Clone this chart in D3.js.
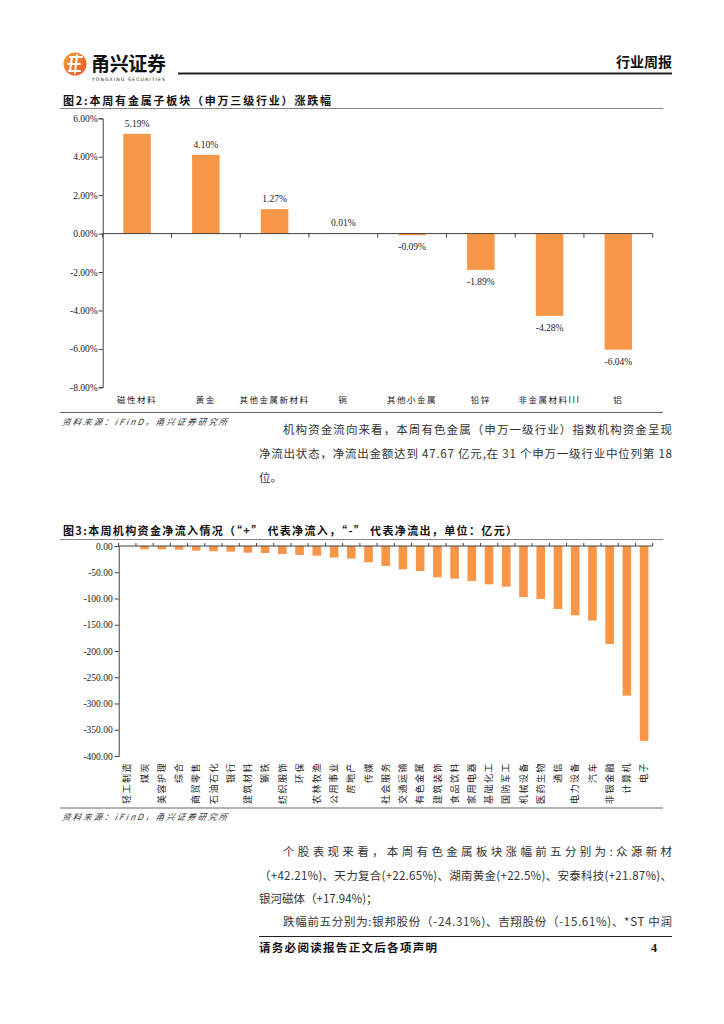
<!DOCTYPE html>
<html lang="zh">
  <head>
    <meta charset="utf-8" />
    <title>有色金属周报</title>
    <script src="https://d3js.org/d3.v7.min.js"></script>
    <style>
      body{ margin:0; padding:0; background:#fff; }
      svg{ display:block; }
      .cjk{ font-family:"Noto Sans CJK SC", sans-serif; }
      .num{ font-family:"Liberation Serif", "DejaVu Serif", serif; }
      .axis path, .axis line{ stroke:#404040; }
    </style>
  </head>
  <body>
    <svg id="page" width="724" height="1024"></svg>
    <script>

      // ---- data: chart 2 (sub-sector change %)
      var subSectors = ["磁性材料", "黄金", "其他金属新材料", "铜", "其他小金属", "铅锌", "非金属材料III", "铝"];
      var subChange = [5.19, 4.10, 1.27, 0.01, -0.09, -1.89, -4.28, -6.04];
      var pctTicks = [6, 4, 2, 0, -2, -4, -6, -8];

      // ---- data: chart 3 (net institutional flow, 亿元)
      var industries = ["轻工制造", "煤炭", "美容护理", "综合", "商贸零售", "石油石化", "银行", "建筑材料",
        "钢铁", "纺织服饰", "环保", "农林牧渔", "公用事业", "房地产", "传媒", "社会服务", "交通运输",
        "有色金属", "建筑装饰", "食品饮料", "家用电器", "基础化工", "国防军工", "机械设备", "医药生物",
        "通信", "电力设备", "汽车", "非银金融", "计算机", "电子"];
      var netFlow = [0.3, -6.3, -6.5, -7, -8.9, -10, -10.8, -12.7, -13.3, -15.2, -17, -18.4, -22, -24, -31,
        -38, -44.4, -47.67, -59.7, -62.2, -66.7, -73, -77.5, -97, -101, -120, -132, -142, -186.7, -285, -371];
      var flowTicks = [0, -50, -100, -150, -200, -250, -300, -350, -400];

      var barColor = "#f79646";
      var svg = d3.select("#page");

      // plain hyphen for negatives, like the report
      var fmt2 = d3.formatLocale({decimal: ".", thousands: ",", grouping: [3], currency: ["", ""], minus: "-"}).format(".2f");
      var fmtPct = function(d){ return fmt2(d) + "%"; };

      // ---- page header
      var logoGrad = svg.append("defs").append("linearGradient")
        .attr("id", "logoGrad").attr("x1", 0).attr("y1", 0).attr("x2", 1).attr("y2", 1);
      logoGrad.append("stop").attr("offset", "0%").attr("stop-color", "#f7a13a");
      logoGrad.append("stop").attr("offset", "100%").attr("stop-color", "#e8542a");
      svg.append("circle").attr("cx", 75).attr("cy", 64).attr("r", 11.5).attr("fill", "url(#logoGrad)");
      svg.append("path")
        .attr("d", "M70,57 L82,57 M68,64 L80,64 M69,71 L80,71 M72,57 L70,71 M77,55 L75,73")
        .attr("stroke", "#fff").attr("stroke-width", 2).attr("fill", "none").attr("stroke-linecap", "round");
      svg.append("text").attr("class", "cjk")
        .attr("x", 91).attr("y", 71).attr("font-size", 19).attr("font-weight", "bold").attr("fill", "#111")
        .attr("textLength", 75).text("甬兴证券");
      svg.append("text").attr("font-family", "DejaVu Sans")
        .attr("x", 92).attr("y", 80.5).attr("font-size", 4.6).attr("fill", "#222")
        .attr("textLength", 73).text("YONGXING SECURITIES");
      svg.append("line").attr("x1", 178).attr("x2", 672).attr("y1", 73.5).attr("y2", 73.5)
        .attr("stroke", "#222").attr("stroke-width", 2);
      svg.append("text").attr("class", "cjk")
        .attr("x", 672).attr("y", 67).attr("text-anchor", "end").attr("font-size", 14).attr("font-weight", "bold")
        .attr("fill", "#111").text("行业周报");

      function rule(y, x1, x2, color, w){
        svg.append("line").attr("x1", x1).attr("x2", x2).attr("y1", y).attr("y2", y)
          .attr("stroke", color).attr("stroke-width", w);
      }

      function title(txt, y, len){
        svg.append("text").attr("class", "cjk")
          .attr("x", 63).attr("y", y).attr("font-size", 11).attr("font-weight", "bold").attr("fill", "#111")
          .attr("textLength", len).text(txt);
      }

      function source(y){
        svg.append("text").attr("class", "cjk")
          .attr("x", 62).attr("y", y).attr("font-size", 8.5).attr("font-style", "italic").attr("fill", "#333")
          .attr("transform", "skewX(-10) translate(" + (y * 0.176) + ",0)")
          .attr("textLength", 165)
          .text("资料来源：iFinD，甬兴证券研究所");
      }

      function para(txt, x, y, justify){
        var t = svg.append("text").attr("class", "cjk")
          .attr("x", x).attr("y", y).attr("font-size", 11.5).attr("fill", "#333").text(txt);
        if(justify) t.attr("textLength", 672 - x).attr("lengthAdjust", "spacing");
      }

      // ---- chart 2
      title("图2:本周有金属子板块（申万三级行业）涨跌幅", 105, 268);
      rule(108.5, 60, 663, "#888", 1);

      var x1 = d3.scaleBand().domain(subSectors).range([102.7, 652.7]).paddingInner(0.6).paddingOuter(0.3);
      var y1 = d3.scaleLinear().domain([-8, 6]).range([387.3, 118.3]);

      var g1 = svg.append("g");
      g1.append("g").attr("class", "axis num")
        .attr("transform", "translate(102.7,0)")
        .call(d3.axisLeft(y1).tickValues(pctTicks).tickSize(4).tickFormat(fmtPct))
        .call(function(g){
          g.selectAll("text").attr("font-size", 9.5).attr("fill", "#222").attr("font-family", "Liberation Serif").attr("x", -5);
        });

      g1.selectAll("rect").data(subChange).enter().append("rect")
        .attr("x", function(d, i){ return x1(subSectors[i]); })
        .attr("y", function(d){ return y1(Math.max(0, d)); })
        .attr("width", x1.bandwidth())
        .attr("height", function(d){ return Math.max(0.6, Math.abs(y1(d) - y1(0))); })
        .attr("fill", barColor);

      var step1 = x1.step();
      g1.append("line").attr("x1", 102.7).attr("x2", 652.7).attr("y1", y1(0)).attr("y2", y1(0))
        .attr("stroke", "#404040");
      g1.selectAll(".tk").data(d3.range(subSectors.length + 1)).enter().append("line")
        .attr("x1", function(i){ return 102.7 + i * step1; })
        .attr("x2", function(i){ return 102.7 + i * step1; })
        .attr("y1", y1(0)).attr("y2", y1(0) + 4).attr("stroke", "#404040");

      g1.selectAll(".vl").data(subChange).enter().append("text").attr("class", "num")
        .attr("x", function(d, i){ return x1(subSectors[i]) + x1.bandwidth() / 2; })
        .attr("y", function(d){ return d >= 0 ? y1(d) - 7 : y1(d) + 15; })
        .attr("text-anchor", "middle").attr("font-size", 9.5).attr("fill", "#222")
        .text(fmtPct);

      g1.selectAll(".cl").data(subSectors).enter().append("text").attr("class", "cjk")
        .attr("x", function(d){ return x1(d) + x1.bandwidth() / 2; })
        .attr("y", 403).attr("text-anchor", "middle").attr("font-size", 8.5).attr("fill", "#222")
        .attr("letter-spacing", 1.5)
        .text(function(d){ return d; });

      rule(412.5, 60, 663, "#666", 1.2);
      source(425);

      para("机构资金流向来看，本周有色金属（申万一级行业）指数机构资金呈现", 283, 434, true);
      para("净流出状态，净流出金额达到 47.67 亿元,在 31 个申万一级行业中位列第 18", 259, 458, true);
      para("位。", 259, 482, false);

      // ---- chart 3
      title("图3:本周机构资金净流入情况（“+”  代表净流入，“-” 代表净流出，单位：亿元）", 535, 454);
      rule(539.5, 60, 663, "#888", 1);

      var x2 = d3.scaleBand().domain(industries).range([118.7, 652.7]).paddingInner(0.5).paddingOuter(0.25);
      var y2 = d3.scaleLinear().domain([-400, 0]).range([756, 546]);

      var g2 = svg.append("g");
      g2.selectAll("rect").data(netFlow).enter().append("rect")
        .attr("x", function(d, i){ return x2(industries[i]); })
        .attr("y", function(d){ return y2(Math.max(0, d)); })
        .attr("width", x2.bandwidth())
        .attr("height", function(d){ return d < 0 ? y2(d) - y2(0) : 0; })
        .attr("fill", barColor);

      g2.append("g").attr("class", "axis num")
        .attr("transform", "translate(118.7,0)")
        .call(d3.axisLeft(y2).tickValues(flowTicks).tickSize(4).tickFormat(fmt2))
        .call(function(g){
          g.selectAll("text").attr("font-size", 9.5).attr("fill", "#222").attr("font-family", "Liberation Serif").attr("x", -6);
        });

      var step2 = x2.step();
      g2.append("line").attr("x1", 118.7).attr("x2", 652.7).attr("y1", y2(0)).attr("y2", y2(0))
        .attr("stroke", "#404040");
      g2.selectAll(".tk").data(d3.range(industries.length + 1)).enter().append("line")
        .attr("x1", function(i){ return 118.7 + i * step2; })
        .attr("x2", function(i){ return 118.7 + i * step2; })
        .attr("y1", y2(0)).attr("y2", y2(0) - 3).attr("stroke", "#404040");

      g2.selectAll(".cl").data(industries).enter().append("text").attr("class", "cjk")
        .attr("transform", function(d){ return "translate(" + (x2(d) + x2.bandwidth() / 2) + ",762) rotate(-90)"; })
        .attr("text-anchor", "end").attr("dy", "0.35em").attr("font-size", 9).attr("fill", "#222")
        .attr("letter-spacing", 1.5)
        .text(function(d){ return d; });

      rule(808, 60, 663, "#666", 1.2);
      source(820);

      para("个股表现来看，本周有色金属板块涨幅前五分别为:众源新材", 283, 856, true);
      para("（+42.21%)、天力复合(+22.65%)、湖南黄金(+22.5%)、安泰科技(+21.87%)、", 259, 880, true);
      para("银河磁体（+17.94%)；", 259, 903, false);
      para("跌幅前五分别为:银邦股份（-24.31%)、吉翔股份（-15.61%)、*ST 中润", 283, 926, true);

      // ---- footer
      rule(936.5, 259, 672, "#222", 1.2);
      svg.append("text").attr("class", "cjk")
        .attr("x", 259).attr("y", 952).attr("font-size", 11.5).attr("font-weight", "bold").attr("fill", "#111")
        .attr("textLength", 178).text("请务必阅读报告正文后各项声明");
      svg.append("text").attr("class", "num")
        .attr("x", 651).attr("y", 952).attr("font-size", 12).attr("font-weight", "bold").attr("fill", "#111")
        .text("4");

    </script>
  </body>
</html>
